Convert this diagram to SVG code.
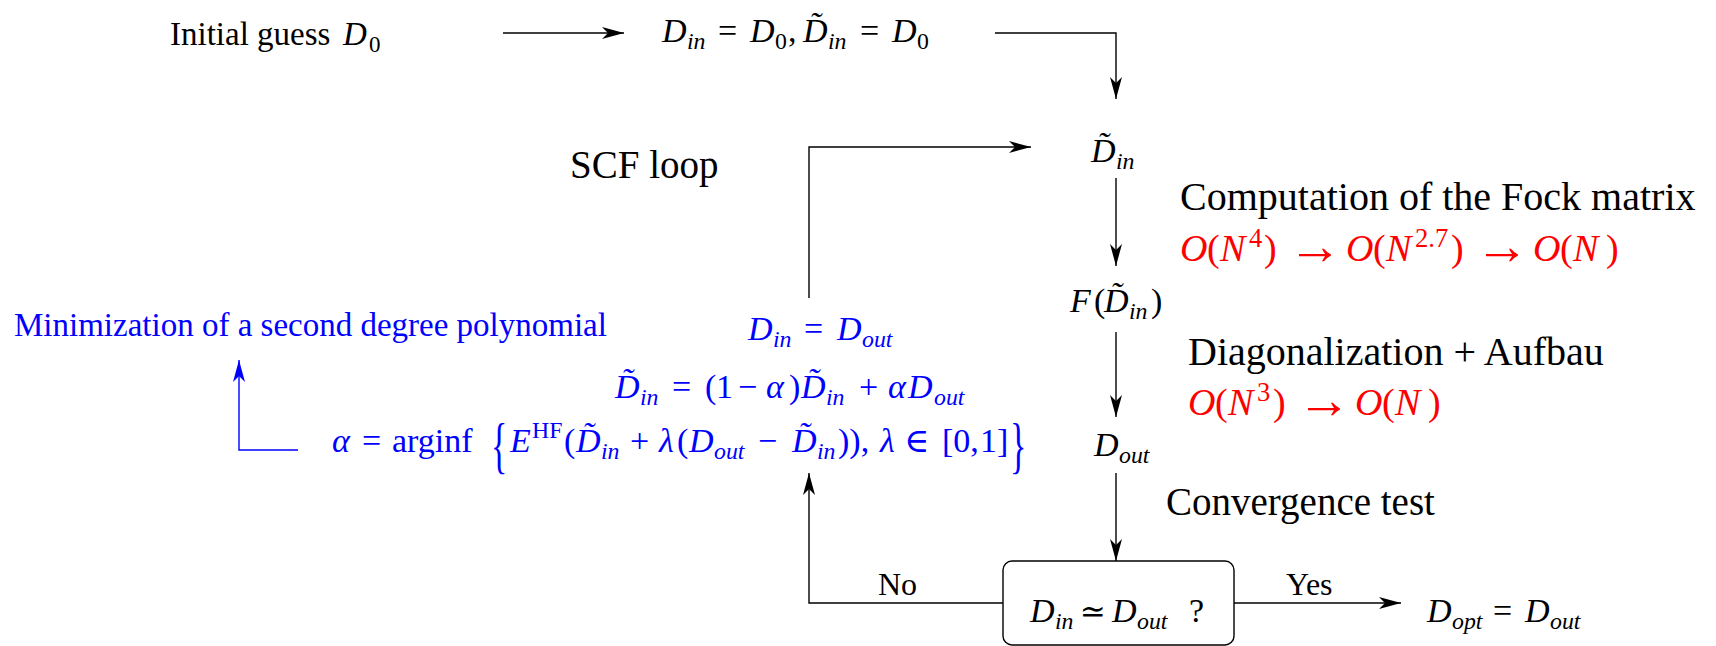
<svg xmlns="http://www.w3.org/2000/svg" width="1716" height="646" viewBox="0 0 1716 646">
<defs>
<style>
text { font-family: "Liberation Serif", "DejaVu Serif", serif; fill: #000; }
.i { font-style: italic; }
.u { font-style: normal; }
.s { font-size: 70%; }
.ar { font-style: normal; font-size: 54px; }
.eq { font-family: "DejaVu Serif", serif; font-style: normal; font-size: 31px; }
.el { font-family: "DejaVu Serif", serif; font-style: normal; }
.blue, .blue tspan { fill: #0000ff; }
.red, .red tspan { fill: #ff0000; }
.ln { stroke: #000; stroke-width: 1.4; fill: none; marker-end: url(#ah); }
.lb { stroke: #0000ff; stroke-width: 1.4; fill: none; marker-end: url(#ahb); }
</style>
<marker id="ah" markerUnits="userSpaceOnUse" markerWidth="24" markerHeight="14" refX="22" refY="6" orient="auto">
<path d="M0,0 L22,6 L0,12 L6,6 Z" fill="#000"/>
</marker>
<marker id="ahb" markerUnits="userSpaceOnUse" markerWidth="24" markerHeight="14" refX="22" refY="6" orient="auto">
<path d="M0,0 L22,6 L0,12 L6,6 Z" fill="#0000ff"/>
</marker>
</defs>

<g id="connectors">
<path class="ln" d="M503,33 H624"/>
<path class="ln" d="M995,33 H1116 V99"/>
<path class="ln" d="M809,298 V147 H1031"/>
<path class="ln" d="M1116,178 V266"/>
<path class="ln" d="M1116,332 V417"/>
<path class="ln" d="M1116,473 V561"/>
<path class="ln" d="M1003,603 H809 V473"/>
<path class="ln" d="M1234,603 H1401"/>
<path class="lb" d="M298,450 H239 V360"/>
</g>

<g id="initial">
<text font-size="33"><tspan x="170" y="45">Initial guess</tspan><tspan class="i" x="343" y="45">D</tspan><tspan x="369" y="52" font-size="23">0</tspan></text>
</g>

<g id="init-assign">
<text font-size="34" class="i"><tspan x="662" y="42">D</tspan><tspan class="s" x="687" y="49">in</tspan><tspan class="u" x="718" y="42">=</tspan><tspan x="750" y="42">D</tspan><tspan class="u s" x="775" y="49">0</tspan><tspan class="u" x="788" y="42">,</tspan><tspan x="803" y="42">D&#x303;</tspan><tspan class="s" x="828" y="49">in</tspan><tspan class="u" x="860" y="42">=</tspan><tspan x="892" y="42">D</tspan><tspan class="u s" x="917" y="49">0</tspan></text>
</g>

<g id="scf-loop">
<text font-size="39" x="570" y="178">SCF loop</text>
</g>

<g id="dtilde-in">
<text font-size="34" class="i"><tspan x="1091" y="162">D&#x303;</tspan><tspan class="s" x="1116" y="169">in</tspan></text>
</g>

<g id="fock-label">
<text font-size="40" x="1180" y="210">Computation of the Fock matrix</text>
<text font-size="38" class="red i"><tspan x="1180" y="261">O</tspan><tspan class="u" x="1207" y="261">(</tspan><tspan x="1220" y="261">N</tspan><tspan class="u s" x="1249" y="247">4</tspan><tspan class="u" x="1264" y="261">)</tspan><tspan class="ar" x="1288" y="264">→</tspan><tspan x="1346" y="261">O</tspan><tspan class="u" x="1373" y="261">(</tspan><tspan x="1386" y="261">N</tspan><tspan class="u s" x="1415" y="247">2.7</tspan><tspan class="u" x="1451" y="261">)</tspan><tspan class="ar" x="1475" y="264">→</tspan><tspan x="1533" y="261">O</tspan><tspan class="u" x="1560" y="261">(</tspan><tspan x="1573" y="261">N</tspan><tspan class="u" x="1606" y="261">)</tspan></text>
</g>

<g id="fock">
<text font-size="34" class="i"><tspan x="1070" y="312">F</tspan><tspan class="u" x="1094" y="312">(</tspan><tspan x="1104" y="312">D&#x303;</tspan><tspan class="s" x="1129" y="319">in</tspan><tspan class="u" x="1151" y="312">)</tspan></text>
</g>

<g id="diag-label">
<text font-size="40" x="1188" y="365">Diagonalization + Aufbau</text>
<text font-size="38" class="red i"><tspan x="1188" y="415">O</tspan><tspan class="u" x="1215" y="415">(</tspan><tspan x="1228" y="415">N</tspan><tspan class="u s" x="1257" y="401">3</tspan><tspan class="u" x="1273" y="415">)</tspan><tspan class="ar" x="1297" y="418">→</tspan><tspan x="1355" y="415">O</tspan><tspan class="u" x="1382" y="415">(</tspan><tspan x="1395" y="415">N</tspan><tspan class="u" x="1428" y="415">)</tspan></text>
</g>

<g id="dout">
<text font-size="34" class="i"><tspan x="1094" y="456">D</tspan><tspan class="s" x="1119" y="463">out</tspan></text>
</g>

<g id="convergence-label">
<text font-size="39" x="1166" y="515">Convergence test</text>
</g>

<g id="test">
<rect x="1003" y="561" width="231" height="84" rx="9" fill="none" stroke="#000" stroke-width="1.4"/>
<text font-size="34" class="i"><tspan x="1030" y="622">D</tspan><tspan class="s" x="1055" y="629">in</tspan><tspan class="eq" x="1080" y="622">≃</tspan><tspan x="1112" y="622">D</tspan><tspan class="s" x="1137" y="629">out</tspan><tspan class="u" x="1189" y="622">?</tspan></text>
</g>

<g id="no-label"><text font-size="32" x="878" y="595">No</text></g>
<g id="yes-label"><text font-size="32" x="1286" y="595">Yes</text></g>

<g id="dopt">
<text font-size="34" class="i"><tspan x="1427" y="622">D</tspan><tspan class="s" x="1452" y="629">opt</tspan><tspan class="u" x="1493" y="622">=</tspan><tspan x="1525" y="622">D</tspan><tspan class="s" x="1550" y="629">out</tspan></text>
</g>

<g id="minimization">
<text font-size="33" class="blue" x="14" y="336">Minimization of a second degree polynomial</text>
</g>

<g id="update-din">
<text font-size="34" class="blue i"><tspan x="748" y="340">D</tspan><tspan class="s" x="773" y="347">in</tspan><tspan class="u" x="804" y="340">=</tspan><tspan x="837" y="340">D</tspan><tspan class="s" x="862" y="347">out</tspan></text>
</g>

<g id="update-dtilde">
<text font-size="34" class="blue i"><tspan x="615" y="398">D&#x303;</tspan><tspan class="s" x="640" y="405">in</tspan><tspan class="u" x="672" y="398">=</tspan><tspan class="u" x="705" y="398">(</tspan><tspan class="u" x="716" y="398">1</tspan><tspan class="u" x="738" y="398">−</tspan><tspan x="766" y="398">α</tspan><tspan class="u" x="789" y="398">)</tspan><tspan x="801" y="398">D&#x303;</tspan><tspan class="s" x="826" y="405">in</tspan><tspan class="u" x="859" y="398">+</tspan><tspan x="888" y="398">α</tspan><tspan x="908" y="398">D</tspan><tspan class="s" x="934" y="405">out</tspan></text>
</g>

<g id="alpha">
<text font-size="34" class="blue i"><tspan x="332" y="452">α</tspan><tspan class="u" x="362" y="452">=</tspan><tspan class="u" x="392" y="452">arginf</tspan><tspan x="510" y="452">E</tspan><tspan class="u s" x="532" y="438">HF</tspan><tspan class="u" x="564" y="452">(</tspan><tspan x="576" y="452">D&#x303;</tspan><tspan class="s" x="601" y="459">in</tspan><tspan class="u" x="630" y="452">+</tspan><tspan x="659" y="452">λ</tspan><tspan class="u" x="677" y="452">(</tspan><tspan x="689" y="452">D</tspan><tspan class="s" x="714" y="459">out</tspan><tspan class="u" x="758" y="452">−</tspan><tspan x="792" y="452">D&#x303;</tspan><tspan class="s" x="817" y="459">in</tspan><tspan class="u" x="838" y="452">)),</tspan><tspan x="880" y="452">λ</tspan><tspan class="el" x="904" y="452">∈</tspan><tspan class="u" x="942" y="452">[0,</tspan><tspan class="u" x="980" y="452">1]</tspan></text>
<text class="blue" font-size="62" transform="translate(491,466) scale(0.55,1)">{</text>
<text class="blue" font-size="62" transform="translate(1010,466) scale(0.55,1)">}</text>
</g>
</svg>
